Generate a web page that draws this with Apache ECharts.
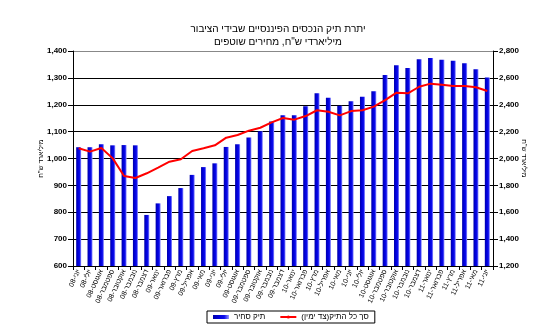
<!DOCTYPE html>
<html><head><meta charset="utf-8">
<script src="https://cdn.jsdelivr.net/npm/echarts@6/dist/echarts.min.js"></script>
<style>html,body{margin:0;padding:0;background:#fff}#c{width:556px;height:331px}</style>
</head><body><div id="c"></div>
<script>
const categories = [
 "יוני-08","יולי-08","אוגוסט-08","ספטמבר-08","אוקטובר-08","נובמבר-08","דצמבר-08",
 "ינואר-09","פברואר-09","מרץ-09","אפריל-09","מאי-09","יוני-09","יולי-09","אוגוסט-09","ספטמבר-09","אוקטובר-09","נובמבר-09","דצמבר-09",
 "ינואר-10","פברואר-10","מרץ-10","אפריל-10","מאי-10","יוני-10","יולי-10","אוגוסט-10","ספטמבר-10","אוקטובר-10","נובמבר-10","דצמבר-10",
 "ינואר-11","פברואר-11","מרץ-11","אפריל-11","מאי-11","יוני-11"];
const tradable = [1042,1042,1053,1049,1050,1049,790,833,860,890,939,968,982,1043,1053,1078,1101,1138,
 1161,1161,1194,1243,1226,1196,1213,1230,1250,1311,1347,1337,1369,1374,1367,1364,1354,1332,1301];
const total = [2076,2051,2078,2001,1870,1855,1890,1932,1976,1994,2056,2076,2098,2155,2175,2207,2229,2269,
 2301,2289,2316,2359,2348,2321,2353,2359,2386,2435,2490,2485,2534,2557,2549,2540,2540,2530,2502];
const titleLines = ["יתרת תיק הנכסים הפיננסיים שבידי הציבור","מיליארדי ש\"ח, מחירים שוטפים"];
const seriesNames = ["תיק סחיר","\u202Bסך כל התיק(צד ימין)\u202C"];
const axisNameLeft = "מיליארד ש\"ח";
const axisNameRight = "מיליארד ש\"ח";

const font = "Liberation Sans";
const chart = echarts.init(document.getElementById('c'), null, {renderer:'canvas'});
chart.setOption({
  animation:false,
  backgroundColor:'#fff',
  title:{text:titleLines.join('\n'), left:'center', top:18,
    textStyle:{fontFamily:font, fontSize:10, fontWeight:'normal', color:'#000', lineHeight:13}},
  grid:{left:73, right:63, top:51, bottom:65},
  legend:{data:[{name:seriesNames[0], icon:'rect'},{name:seriesNames[1]}],
    left:207, top:311, itemWidth:16, itemHeight:4, itemGap:14,
    borderColor:'#000', borderWidth:1, padding:[2,6,2,6],
    textStyle:{fontFamily:font, fontSize:8, color:'#000'}},
  xAxis:{type:'category', data:categories, boundaryGap:true,
    axisLine:{lineStyle:{color:'#000'}},
    axisTick:{show:true, length:4, lineStyle:{color:'#000'}},
    axisLabel:{interval:0, rotate:65, fontFamily:font, fontSize:7, color:'#000', margin:4}},
  yAxis:[
    {type:'value', min:600, max:1400, interval:100, position:'left',
     name:axisNameLeft, nameLocation:'middle', nameGap:28, nameRotate:90, nameMoveOverlap:false,
     nameTextStyle:{fontFamily:font, fontSize:7, color:'#000'},
     axisLine:{show:true, lineStyle:{color:'#000'}},
     axisTick:{show:true, length:5, lineStyle:{color:'#000'}},
     axisLabel:{fontFamily:font, fontSize:8, fontWeight:'bold', color:'#000', margin:6,
       formatter:v=>v.toLocaleString('en-US')},
     splitLine:{show:true, lineStyle:{color:['#000','#000','#000','#000','#000','#000','#000','#000','#888'], width:1}}},
    {type:'value', min:1200, max:2800, interval:200, position:'right',
     name:axisNameRight, nameLocation:'middle', nameGap:27, nameRotate:-90, nameMoveOverlap:false,
     nameTextStyle:{fontFamily:font, fontSize:7, color:'#000'},
     axisLine:{show:true, lineStyle:{color:'#000'}},
     axisTick:{show:true, length:5, lineStyle:{color:'#000'}},
     axisLabel:{fontFamily:font, fontSize:8, fontWeight:'bold', color:'#000', margin:6,
       formatter:v=>v.toLocaleString('en-US')},
     splitLine:{show:false}}
  ],
  series:[
    {name:seriesNames[0], type:'bar', data:tradable, yAxisIndex:0, barWidth:5,
     itemStyle:{color:new echarts.graphic.LinearGradient(0,0,1,0,[
       {offset:0,color:'#0000a8'},{offset:0.35,color:'#0000d8'},{offset:0.7,color:'#0c0cec'},{offset:1,color:'#9a9aff'}])}},
    {name:seriesNames[1], type:'line', data:total, yAxisIndex:1, showSymbol:false, symbol:'none',
     lineStyle:{color:'#ff0000', width:2}, itemStyle:{color:'#ff0000'}}
  ]
});
</script></body></html>
